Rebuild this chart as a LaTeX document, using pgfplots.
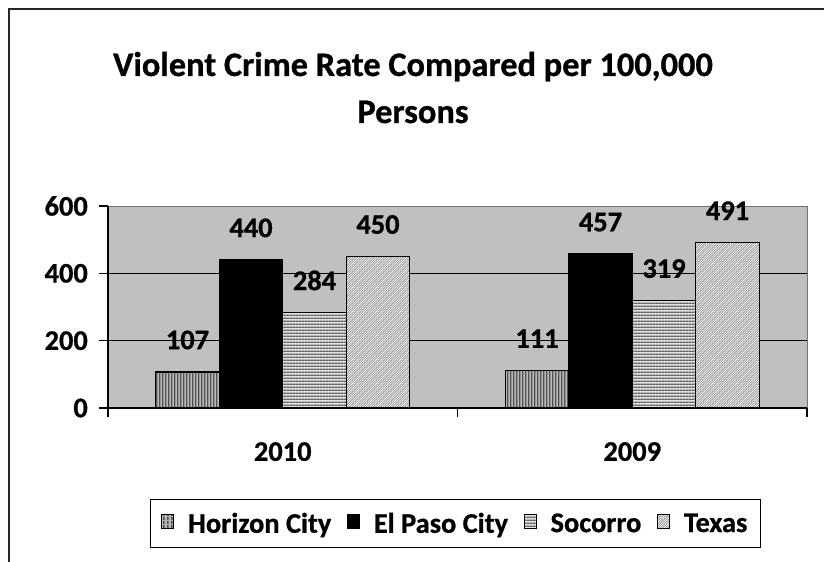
\documentclass[border=0pt]{standalone}
\usepackage{pgfplots}
\pgfplotsset{compat=1.18}
\usepackage{fontspec}
\setmainfont{Carlito}[BoldFeatures={FakeBold=0.8}]
\usetikzlibrary{patterns}
\definecolor{silver}{RGB}{192,192,192}
\pgfdeclarepatternformonly{vstripes}{\pgfpointorigin}{\pgfpoint{3.4bp}{3.4bp}}{\pgfpoint{3.4bp}{3.4bp}}{\pgfpathrectangle{\pgfpointorigin}{\pgfpoint{1.7bp}{3.4bp}}\pgfusepath{fill}}
\pgfdeclarepatternformonly{hstripes}{\pgfpointorigin}{\pgfpoint{3.2bp}{3.2bp}}{\pgfpoint{3.2bp}{3.2bp}}{\pgfpathrectangle{\pgfpointorigin}{\pgfpoint{3.2bp}{1.6bp}}\pgfusepath{fill}}
\pgfdeclarepatternformonly{dstripes}{\pgfpoint{-1bp}{-1bp}}{\pgfpoint{3bp}{3bp}}{\pgfpoint{2.4bp}{2.4bp}}{\pgfsetlinewidth{0.6bp}\pgfpathmoveto{\pgfpoint{-1bp}{-1bp}}\pgfpathlineto{\pgfpoint{3bp}{3bp}}\pgfusepath{stroke}}
\newcommand{\lbl}{\fontsize{28.5}{32}\selectfont\bfseries}
\begin{document}
\begin{tikzpicture}
\useasboundingbox (0,0) rectangle (824bp,562bp);
\draw[line width=1.5bp, black!85] (9bp,0bp) -- (9bp,553bp) -- (824bp,553bp);
\node[font=\fontsize{34.5}{40}\selectfont\bfseries, anchor=base] at (413bp,486bp) {Violent Crime Rate Compared per 100,000};
\node[font=\fontsize{34.5}{40}\selectfont\bfseries, anchor=base] at (413bp,439bp) {Persons};
\begin{axis}[
  at={(108bp,154bp)}, anchor=south west,
  scale only axis, width=699bp, height=202bp,
  xmin=-0.5, xmax=1.5, ymin=0, ymax=600,
  ybar=0pt, bar width=63.5bp,
  axis lines*=left,
  axis line style={line width=1.3bp, black},
  axis background/.style={fill=silver, draw=black!55, line width=0.8bp},
  tick align=outside,
  major tick length=9bp,
  tick style={line width=1.3bp, black},
  ytick={0,200,400,600},
  extra y ticks={200,400}, extra y tick labels={},
  extra y tick style={grid=major, major tick length=0pt},
  major grid style={line width=1.3bp, black},
  xtick={-0.5,0.5,1.5}, xticklabels={},
  extra x ticks={0,1}, extra x tick labels={2010,2009},
  extra x tick style={major tick length=0pt},
  yticklabel style={font=\lbl, anchor=east, inner sep=0pt, xshift=-11bp},
  xticklabel style={font=\lbl, anchor=north, inner sep=0pt, yshift=-34bp},
  /pgf/number format/assume math mode=true,
  nodes near coords,
  every node near coord/.append style={font=\lbl, anchor=center, yshift=32bp, black},
  legend style={at={(0.497,-0.572)}, anchor=center, legend columns=-1, draw=black, line width=1.3bp, font=\lbl, inner xsep=11bp, inner ysep=11bp,
    /tikz/every odd column/.append style={column sep=12bp},
    /tikz/every even column/.append style={column sep=14bp}},
  every axis plot post/.append style={legend image code/.code={\draw[#1, line width=0.6bp] (0bp,-5bp) rectangle (12bp,9bp);}},
]
\addplot[draw=black, line width=1.3bp, fill=black!28, postaction={pattern=vstripes, pattern color=black!68}] coordinates {(0,107) (1,111)};
\addplot[draw=black, line width=1.3bp, fill=black] coordinates {(0,440) (1,457)};
\addplot[draw=black, line width=1.3bp, fill=black!12, postaction={pattern=hstripes, pattern color=black!62}] coordinates {(0,284) (1,319)};
\addplot[draw=black, line width=1.3bp, fill=white, postaction={pattern=dstripes, pattern color=black!40}] coordinates {(0,450) (1,491)};
\legend{Horizon City, El Paso City, Socorro, Texas}
\end{axis}
\end{tikzpicture}
\end{document}
